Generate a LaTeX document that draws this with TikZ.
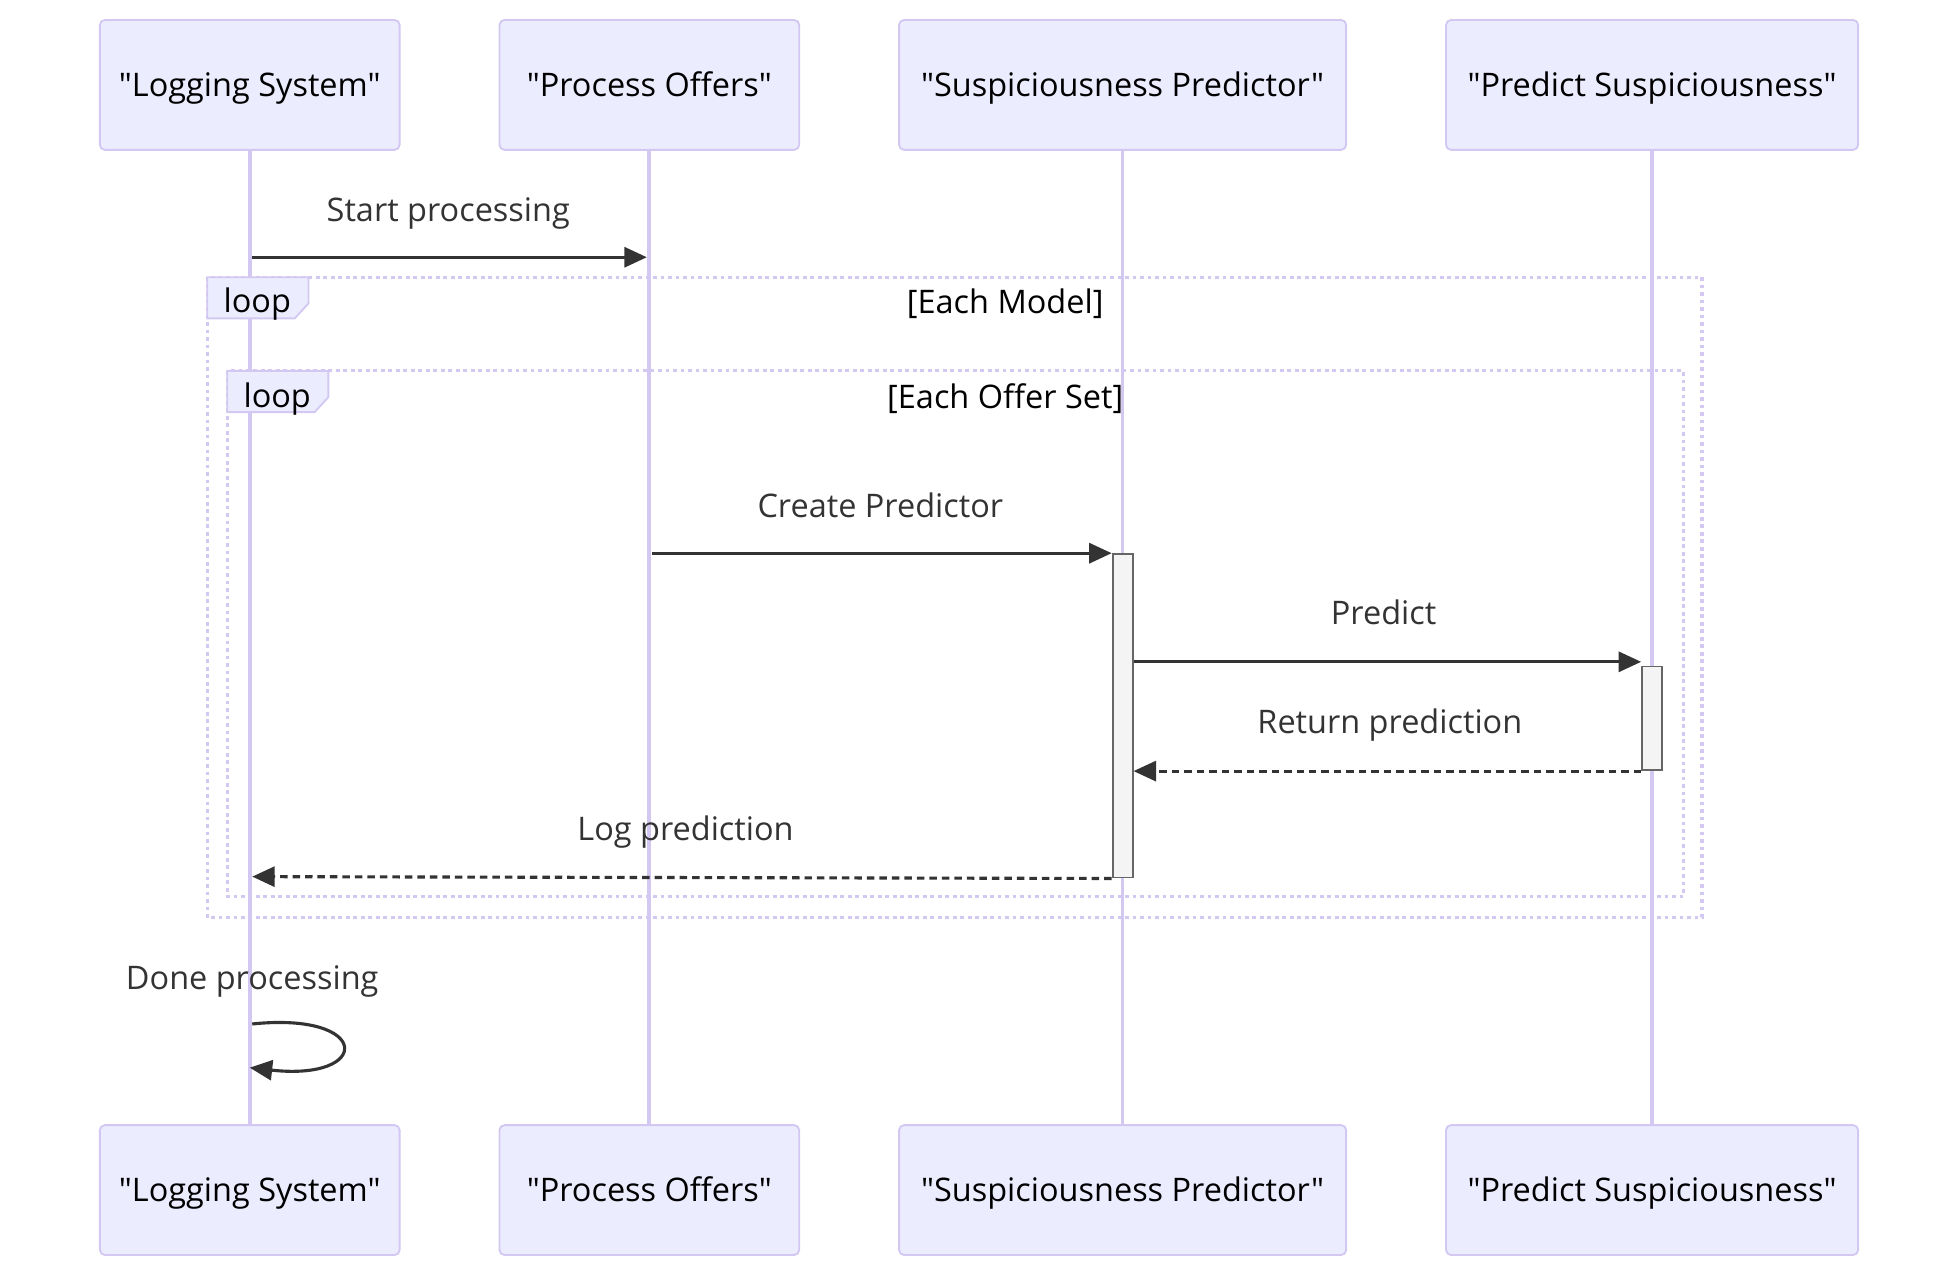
\documentclass[tikz,border=0pt]{standalone}
\usepackage{fontspec}
\setmainfont{Open Sans}[Ligatures=TeXOff]
\usetikzlibrary{arrows.meta,calc}
\definecolor{actfill}{HTML}{ECECFF}
\definecolor{actline}{HTML}{D3C8F2}
\definecolor{msg}{HTML}{333333}
\definecolor{actv}{HTML}{F4F4F4}
\definecolor{actvline}{HTML}{666666}
\newcommand\qmark{\symbol{34}}
\tikzset{
  actor/.style={draw=actline, fill=actfill, line width=1.5pt, rounded corners=4pt,
    minimum height=104pt, inner sep=0pt, text=black, text height=18.6pt, text depth=0pt,
    font=\fontsize{26}{31}\selectfont},
  lifeline/.style={draw=actline, line width=3pt},
  msgline/.style={draw=msg, line width=2.5pt, -{Triangle[length=18pt,width=16pt]}},
  msgdash/.style={msgline, dash pattern=on 6pt off 4pt},
  msgtext/.style={text=msg, font=\fontsize{26}{31}\selectfont, inner sep=0pt, text height=18.6pt, text depth=0pt},
  frametext/.style={text=black, font=\fontsize{26}{31}\selectfont, inner sep=0pt, text height=18.6pt, text depth=0pt},
  loopframe/.style={draw=actline, line width=2.5pt, dash pattern=on 3pt off 3pt},
  looplabel/.style={draw=actline, fill=actfill, line width=1.5pt},
  activation/.style={draw=actvline, fill=actv, line width=1.5pt},
}
\begin{document}
\begin{tikzpicture}[x=1pt,y=-1pt]
\useasboundingbox (0,0) rectangle (1568,1023);
% actors
\node[actor, minimum width=240pt] (t1) at (200,68) {\qmark Logging System\qmark};
\node[actor, minimum width=240pt] (t2) at (520,68) {\qmark Process Offers\qmark};
\node[actor, minimum width=358pt] (t3) at (899,68) {\qmark Suspiciousness Predictor\qmark};
\node[actor, minimum width=330pt] (t4) at (1323,68) {\qmark Predict Suspiciousness\qmark};
\node[actor, minimum width=240pt] (b1) at (200,953) {\qmark Logging System\qmark};
\node[actor, minimum width=240pt] (b2) at (520,953) {\qmark Process Offers\qmark};
\node[actor, minimum width=358pt] (b3) at (899,953) {\qmark Suspiciousness Predictor\qmark};
\node[actor, minimum width=330pt] (b4) at (1323,953) {\qmark Predict Suspiciousness\qmark};
% lifelines
\draw[lifeline] (t1.south) -- (b1.north);
\draw[lifeline] (t2.south) -- (b2.north);
\draw[lifeline] (t3.south) -- (b3.north);
\draw[lifeline] (t4.south) -- (b4.north);
% message 1
\coordinate (m1s) at (202,206);
\coordinate (m1e) at (518,206);
\node[msgtext] (l1) at (359,168) {Start processing};
\draw[msgline] (m1s) -- (m1e);
% outer loop
\draw[loopframe] (166,222) rectangle (1363,735);
\draw[looplabel] (166,222) -- (247,222) -- (247,243) -- (236,255) -- (166,255) -- cycle;
\node[frametext] (lp1) at (206,241) {loop};
\node[frametext] (lc1) at (805,242) {[Each Model]};
% inner loop
\draw[loopframe] (182,297) rectangle (1348,718);
\draw[looplabel] (182,297) -- (263,297) -- (263,318) -- (252,330) -- (182,330) -- cycle;
\node[frametext] (lp2) at (222,317) {loop};
\node[frametext] (lc2) at (805,318) {[Each Offer Set]};
% activations
\node[activation, minimum width=16pt, minimum height=259pt, inner sep=0pt, anchor=north] (act1) at (899,443) {};
\node[activation, minimum width=16pt, minimum height=83pt, inner sep=0pt, anchor=north] (act2) at (1323,533) {};
% message 2
\node[msgtext] (l2) at (705,405) {Create Predictor};
\draw[msgline] (522,443) -- (act1.north west);
% message 3
\node[msgtext] (l3) at (1108,491) {Predict};
\draw[msgline] (act1.east |- 0,530) -- (act2.west |- 0,530);
% message 4
\node[msgtext] (l4) at (1113,578) {Return prediction};
\draw[msgdash] (act2.south west) -- (act1.east |- act2.south);
% message 5
\node[msgtext] (l5) at (549,664) {Log prediction};
\coordinate (m5e) at (202,702);
\draw[msgdash] (act1.south west) -- (m5e);
% self message
\node[msgtext] (l6) at (202,783) {Done processing};
\coordinate (s1) at (202,820);
\coordinate (s2) at (200,855);
\draw[msgline] (s1) .. controls (298,810) and (298,866) .. (s2);
\end{tikzpicture}
\end{document}
